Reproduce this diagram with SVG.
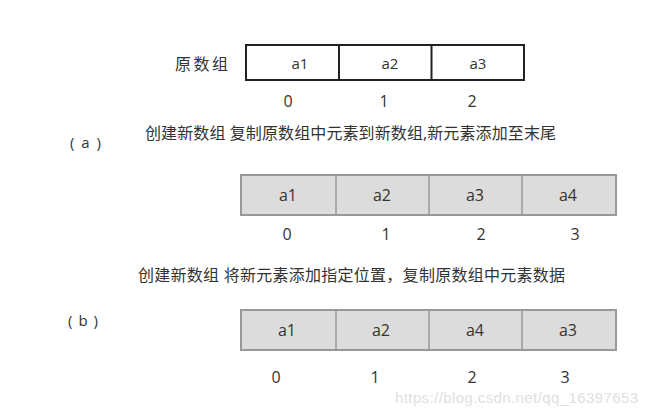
<svg xmlns="http://www.w3.org/2000/svg" width="648" height="414" viewBox="0 0 648 414">
<style>
text{font-family:"Open Sans","Noto Sans CJK SC","Noto Sans",sans-serif;fill:#333}
.cell{font-size:16px;text-anchor:middle}
.idx{font-size:16px;text-anchor:middle}
.cap{font-size:16px}
.lbl{font-size:15px}
.orig{fill:#fff;stroke:#222;stroke-width:2}
.gray{fill:#dcdcdc;stroke:#999;stroke-width:2}
.div{stroke:#999;stroke-width:1.5}
.wm{font-family:"Liberation Sans",Arial,sans-serif;font-size:15px;fill:#e0e0e0}
</style>
<rect width="648" height="414" fill="#fff"/>
<g id="original">
<text x="175" y="70" class="cap" textLength="53">原数组</text>
<rect x="246" y="45" width="278" height="35" class="orig"/>
<line x1="339" y1="45" x2="339" y2="80" stroke="#222" stroke-width="2"/>
<line x1="431.5" y1="45" x2="431.5" y2="80" stroke="#222" stroke-width="2"/>
<text x="300" y="69" class="cell" style="font-size:15px">a1</text>
<text x="390" y="69" class="cell" style="font-size:15px">a2</text>
<text x="478" y="69" class="cell" style="font-size:15px">a3</text>
<text x="288" y="107" class="idx">0</text>
<text x="384" y="107" class="idx">1</text>
<text x="472" y="107" class="idx">2</text>
</g>
<g id="caseA">
<text x="70" y="148" class="lbl" textLength="31">( a )</text>
<text x="145" y="139" class="cap" textLength="411">创建新数组 复制原数组中元素到新数组,新元素添加至末尾</text>
<rect x="241" y="175" width="375" height="40" class="gray"/>
<line x1="336" y1="175" x2="336" y2="215" class="div"/>
<line x1="429" y1="175" x2="429" y2="215" class="div"/>
<line x1="522" y1="175" x2="522" y2="215" class="div"/>
<text x="288" y="201" class="cell">a1</text>
<text x="382" y="201" class="cell">a2</text>
<text x="475" y="201" class="cell">a3</text>
<text x="568" y="201" class="cell">a4</text>
<text x="287" y="240" class="idx">0</text>
<text x="386" y="240" class="idx">1</text>
<text x="481" y="240" class="idx">2</text>
<text x="575" y="240" class="idx">3</text>
</g>
<g id="caseB">
<text x="68" y="326" class="lbl" textLength="30">( b )</text>
<text x="138" y="281" class="cap" textLength="427">创建新数组 将新元素添加指定位置，复制原数组中元素数据</text>
<rect x="241" y="310" width="375" height="40" class="gray"/>
<line x1="336" y1="310" x2="336" y2="350" class="div"/>
<line x1="429" y1="310" x2="429" y2="350" class="div"/>
<line x1="522" y1="310" x2="522" y2="350" class="div"/>
<text x="287" y="336" class="cell">a1</text>
<text x="381" y="336" class="cell">a2</text>
<text x="475" y="336" class="cell">a4</text>
<text x="568" y="336" class="cell">a3</text>
<text x="276" y="383" class="idx">0</text>
<text x="375" y="383" class="idx">1</text>
<text x="472" y="383" class="idx">2</text>
<text x="565" y="383" class="idx">3</text>
</g>
<g id="connectors"></g>
<text x="395" y="403" class="wm" textLength="243">https://blog.csdn.net/qq_16397653</text>
</svg>
